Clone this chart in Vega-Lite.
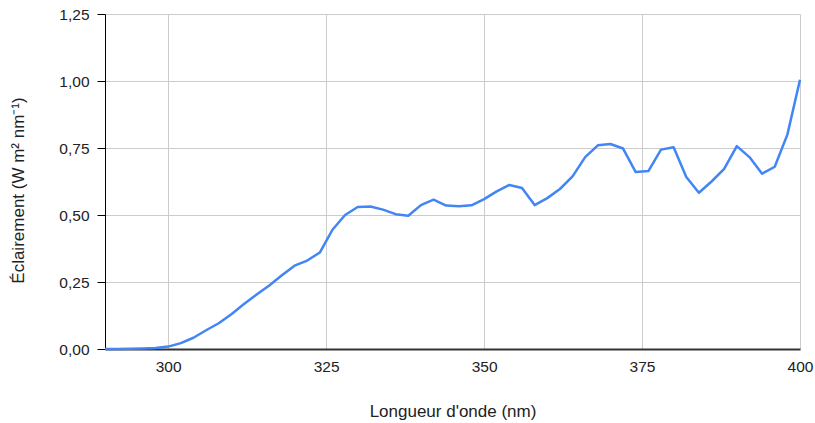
{
  "$schema": "https://vega.github.io/schema/vega-lite/v6.json",
  "width": 695,
  "height": 335,
  "autosize": "none",
  "padding": {"left": 105, "top": 14, "right": 15, "bottom": 74},
  "background": "white",
  "config": {
    "view": {"stroke": null},
    "font": "Liberation Sans",
    "axis": {"labelFont": "Liberation Sans", "titleFont": "Liberation Sans", "labelColor": "#222222", "titleColor": "#222222", "titleFontWeight": "normal", "gridColor": "#cccccc", "gridWidth": 1}
  },
  "data": {"values": [
    {"nm": 290, "v": 0}, {"nm": 292, "v": 0}, {"nm": 294, "v": 0.001}, {"nm": 296, "v": 0.002},
    {"nm": 298, "v": 0.004}, {"nm": 300, "v": 0.009}, {"nm": 302, "v": 0.022}, {"nm": 304, "v": 0.042},
    {"nm": 306, "v": 0.07}, {"nm": 308, "v": 0.096}, {"nm": 310, "v": 0.13}, {"nm": 312, "v": 0.168},
    {"nm": 314, "v": 0.203}, {"nm": 316, "v": 0.237}, {"nm": 318, "v": 0.275}, {"nm": 320, "v": 0.311},
    {"nm": 322, "v": 0.33}, {"nm": 324, "v": 0.36}, {"nm": 326, "v": 0.445}, {"nm": 328, "v": 0.5},
    {"nm": 330, "v": 0.53}, {"nm": 332, "v": 0.532}, {"nm": 334, "v": 0.52}, {"nm": 336, "v": 0.503},
    {"nm": 338, "v": 0.497}, {"nm": 340, "v": 0.537}, {"nm": 342, "v": 0.557}, {"nm": 344, "v": 0.535},
    {"nm": 346, "v": 0.533}, {"nm": 348, "v": 0.536}, {"nm": 350, "v": 0.559}, {"nm": 352, "v": 0.588},
    {"nm": 354, "v": 0.612}, {"nm": 356, "v": 0.601}, {"nm": 358, "v": 0.537}, {"nm": 360, "v": 0.563},
    {"nm": 362, "v": 0.597}, {"nm": 364, "v": 0.644}, {"nm": 366, "v": 0.716}, {"nm": 368, "v": 0.76},
    {"nm": 370, "v": 0.765}, {"nm": 372, "v": 0.748}, {"nm": 374, "v": 0.66}, {"nm": 376, "v": 0.664},
    {"nm": 378, "v": 0.744}, {"nm": 380, "v": 0.753}, {"nm": 382, "v": 0.642}, {"nm": 384, "v": 0.583},
    {"nm": 386, "v": 0.625}, {"nm": 388, "v": 0.672}, {"nm": 390, "v": 0.757}, {"nm": 392, "v": 0.716},
    {"nm": 394, "v": 0.654}, {"nm": 396, "v": 0.68}, {"nm": 398, "v": 0.8}, {"nm": 400, "v": 1.005}
  ]},
  "mark": {"type": "line", "color": "#4285f4", "strokeWidth": 2.5, "strokeJoin": "round"},
  "encoding": {
    "x": {"field": "nm", "type": "quantitative", "scale": {"domain": [290, 400], "nice": false, "zero": false},
      "axis": {"title": "Longueur d'onde (nm)", "values": [300, 325, 350, 375, 400], "grid": true, "ticks": false, "labelFlush": false, "labelOverlap": false, "domainColor": "#333333", "domainWidth": 2, "labelFontSize": 15.5, "labelPadding": 10, "titleFontSize": 17, "titlePadding": 29}},
    "y": {"field": "v", "type": "quantitative", "scale": {"domain": [0, 1.25], "nice": false},
      "axis": {"title": "Éclairement (W m² nm⁻¹)", "values": [0, 0.25, 0.5, 0.75, 1, 1.25], "grid": true, "labelFlush": false, "labelExpr": "replace(format(datum.value, '.2f'), '.', ',')", "domainColor": "#000000", "domainWidth": 1, "tickColor": "#000000", "tickSize": 8, "labelFontSize": 15.5, "labelPadding": 8, "titleFontSize": 17, "titleX": -78, "titleY": 176}}
  }
}
